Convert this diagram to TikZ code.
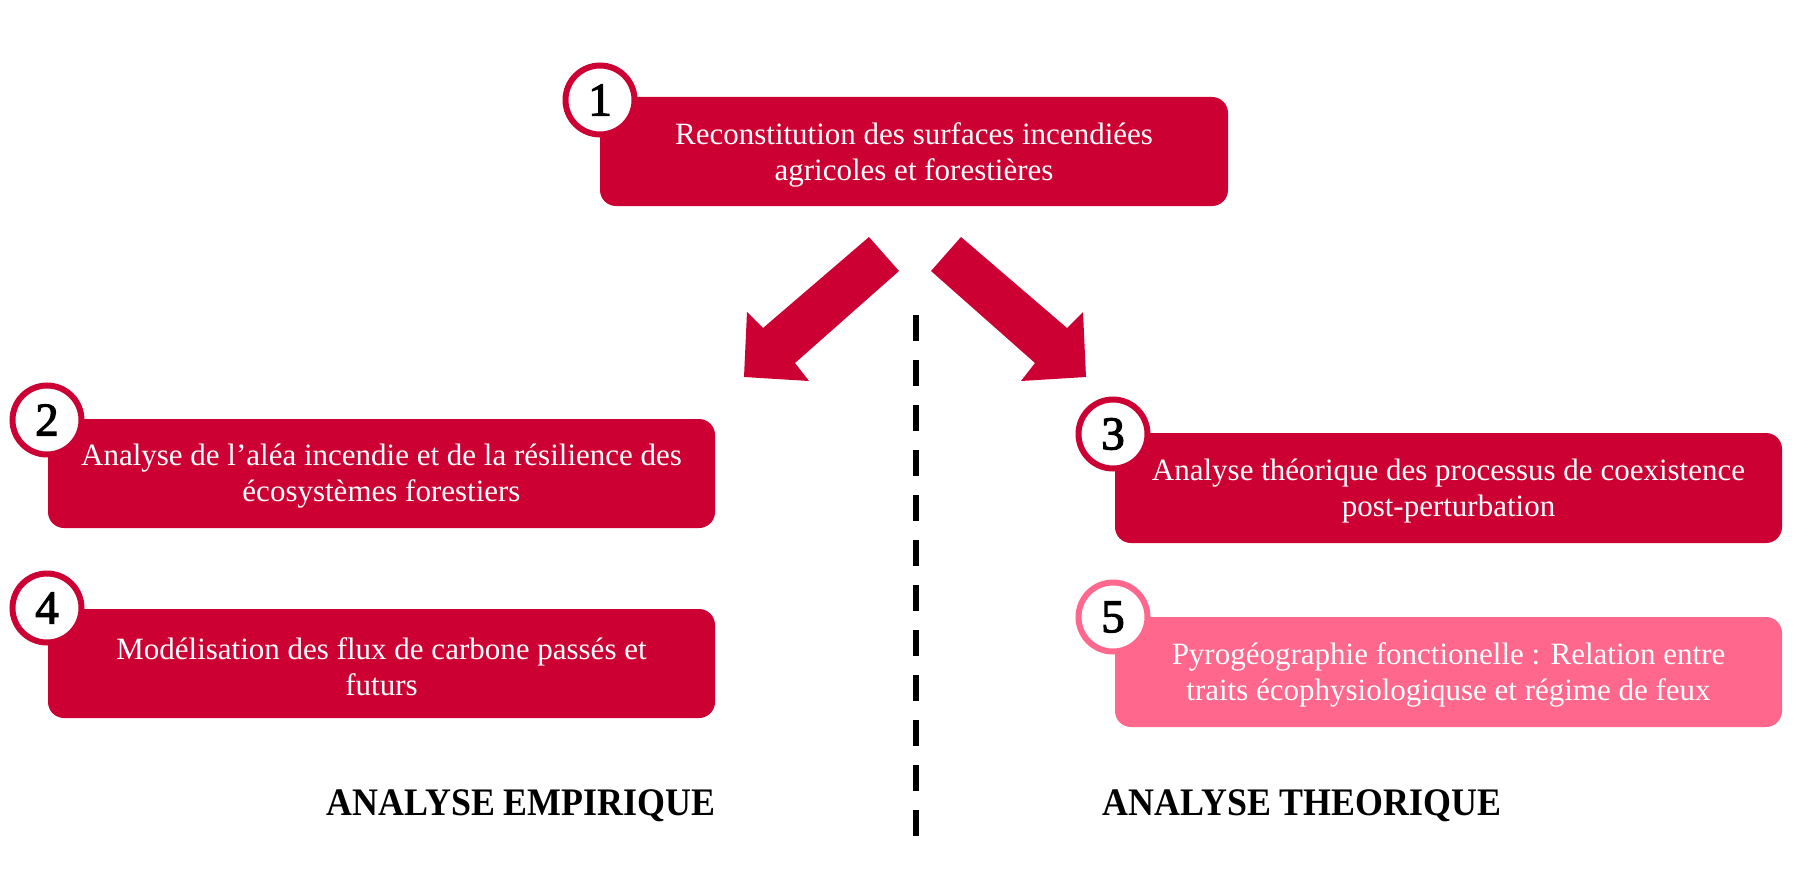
\documentclass[tikz,border=0pt]{standalone}
\usepackage{fontspec}
\setmainfont{Liberation Serif}
\newfontfamily\labfont[FakeStretch=0.92]{Liberation Serif}
\newfontfamily\numfont[FakeBold=2.5]{Liberation Serif}
\definecolor{crim}{HTML}{CC0033}
\definecolor{pinkc}{HTML}{FF678C}
\begin{document}
\begin{tikzpicture}[x=0.5pt,y=-0.5pt,
  box/.style={fill=#1, rounded corners=8pt, minimum width=333.5pt, minimum height=54.5pt, inner sep=0pt, outer sep=0pt},
  boxtext/.style={text=white, align=center, inner sep=0pt, font=\fontsize{15.5}{18}\selectfont},
  num/.style={circle, draw=#1, line width=3pt, fill=white, minimum size=34.5pt, inner sep=0pt, font=\numfont\fontsize{23.5}{24}\selectfont},
  lab/.style={font=\labfont\bfseries\fontsize{19.5}{22}\selectfont, anchor=base, inner sep=0pt}]
\useasboundingbox[fill=white] (0,0) rectangle (1809,883);

% block arrows
\fill[crim] (869,237) -- (899,271) -- (795,363) -- (809,381) -- (744,377) -- (747,312) -- (763,328) -- cycle;
\fill[crim] (961,237) -- (931,271) -- (1035,363) -- (1021,381) -- (1086,377) -- (1083,312) -- (1067,328) -- cycle;

% dashed separator
\coordinate (dtop) at (916,315);
\coordinate (dbot) at (916,836);
\draw[line width=3pt, dash pattern=on 13pt off 9.5pt] (dtop) -- (dbot);

% boxes
\node[box=crim, minimum width=314pt] (b1) at (914,151.5) {};
\node[box=crim] (b2) at (381.5,473.5) {};
\node[box=crim] (b4) at (381.5,663.5) {};
\node[box=crim, minimum height=55pt] (b3) at (1448.5,488) {};
\node[box=pinkc, minimum height=55pt] (b5) at (1448.5,672) {};

% texts
\node[boxtext] (t1) at ([yshift=-1.5pt]b1.center) {Reconstitution des surfaces incendiées\\agricoles et forestières};
\node[boxtext] (t2) at ([yshift=-1.5pt]b2.center) {Analyse de l’aléa incendie et de la résilience des\\écosystèmes forestiers};
\node[boxtext] (t4) at ([yshift=-1.5pt]b4.center) {Modélisation des flux de carbone passés et\\futurs};
\node[boxtext] (t3) at ([yshift=-1.5pt]b3.center) {Analyse théorique des processus de coexistence\\post-perturbation};
\node[boxtext] (t5) at ([yshift=-1.5pt]b5.center) {Pyrogéographie fonctionelle : Relation entre\\traits écophysiologiquse et régime de feux};

% number circles
\node[num=crim] (n1) at ([shift={(0,3)}]b1.north west) {1};
\node[num=crim] (n2) at (47,420) {2};
\node[num=crim] (n4) at (47,608) {4};
\node[num=crim] (n3) at (1113,434) {3};
\node[num=pinkc] (n5) at (1113,617) {5};

% labels
\node[lab] (l1) at (521,815) {ANALYSE EMPIRIQUE};
\node[lab] (l2) at (1302,815) {ANALYSE THEORIQUE};
\end{tikzpicture}
\end{document}
